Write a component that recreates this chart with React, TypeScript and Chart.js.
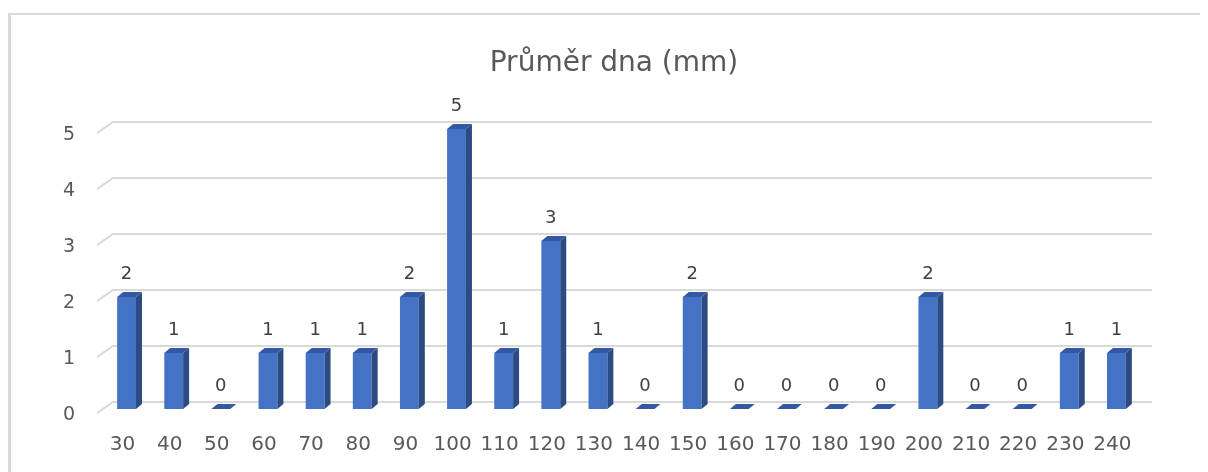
import { useEffect, useRef } from "react";
import { Chart, registerables } from "chart.js";

Chart.register(...registerables);

const categories = ["30", "40", "50", "60", "70", "80", "90", "100", "110", "120", "130", "140", "150", "160", "170", "180", "190", "200", "210", "220", "230", "240"];
const counts = [2, 1, 0, 1, 1, 1, 2, 5, 1, 3, 1, 0, 2, 0, 0, 0, 0, 2, 0, 0, 1, 1];
const yMin = 0;
const yMax = 5;
const yStep = 1;
const chartTitle = "Průměr dna (mm)";

const FONT = "'DejaVu Sans', 'Open Sans', sans-serif";
const FRONT = "#4472c4";
const SIDE = "#2b4b82";
const TOP = "#3459a0";
const GRID = "#d9d9d9";

const deco = {
  id: "deco3d",
  beforeDatasetsDraw(chart: any) {
    const ctx = chart.ctx;
    const { left, right } = chart.chartArea;
    const ys = chart.scales.y;
    ctx.save();
    // outer border
    ctx.fillStyle = GRID;
    ctx.fillRect(0, 5, chart.width, 2);
    ctx.fillRect(0, 5, 3, chart.height);
    // 3D gridlines
    ctx.strokeStyle = GRID;
    ctx.lineWidth = 2;
    for (let v = yMin; v <= yMax; v += yStep) {
      const y = ys.getPixelForValue(v);
      ctx.beginPath();
      ctx.moveTo(left - 6, y + 4);
      ctx.lineTo(left + 10, y - 7);
      ctx.lineTo(right + 12, y - 7);
      ctx.stroke();
    }
    ctx.restore();
  },
  afterDatasetsDraw(chart: any) {
    const ctx = chart.ctx;
    const meta = chart.getDatasetMeta(0);
    const dx = 6;
    const dy = 5;
    ctx.save();
    meta.data.forEach((bar: any, i: number) => {
      const { x, y, base, width } = bar.getProps(["x", "y", "base", "width"], true);
      const x1 = x - width / 2;
      const x2 = x + width / 2;
      if (base - y > 0.5) {
        ctx.fillStyle = SIDE;
        ctx.beginPath();
        ctx.moveTo(x2, y);
        ctx.lineTo(x2 + dx, y - dy);
        ctx.lineTo(x2 + dx, base - dy);
        ctx.lineTo(x2, base);
        ctx.closePath();
        ctx.fill();
      }
      ctx.fillStyle = TOP;
      ctx.beginPath();
      ctx.moveTo(x1, y);
      ctx.lineTo(x2, y);
      ctx.lineTo(x2 + dx, y - dy);
      ctx.lineTo(x1 + dx, y - dy);
      ctx.closePath();
      ctx.fill();
      ctx.fillStyle = "#404040";
      ctx.font = `18px ${FONT}`;
      ctx.textAlign = "center";
      ctx.textBaseline = "middle";
      ctx.fillText(String(counts[i]), x, y - 23);
    });
    ctx.fillStyle = "#595959";
    ctx.font = `28px ${FONT}`;
    ctx.textAlign = "center";
    ctx.textBaseline = "alphabetic";
    ctx.fillText(chartTitle, 606, 63);
    ctx.restore();
  },
};

export default function App() {
  const ref = useRef<HTMLCanvasElement>(null);
  useEffect(() => {
    if (!ref.current) return;
    const chart = new Chart(ref.current, {
      type: "bar",
      data: {
        labels: categories,
        datasets: [
          {
            data: counts,
            backgroundColor: FRONT,
            borderWidth: 0,
            categoryPercentage: 1,
            barPercentage: 0.4,
          },
        ],
      },
      options: {
        animation: false,
        responsive: false,
        devicePixelRatio: 1,
        layout: { padding: { left: 27, right: 68, top: 121, bottom: 0 } },
        plugins: {
          legend: { display: false },
          tooltip: { enabled: false },
          title: { display: false },
        },
        scales: {
          x: {
            grid: { display: false, drawTicks: false },
            border: { display: false },
            ticks: {
              color: "#595959",
              font: { size: 20, family: FONT },
              padding: 24,
              labelOffset: -4,
              maxRotation: 0,
              autoSkip: false,
            },
            afterFit: (s: any) => {
              s.height = 63;
            },
          },
          y: {
            min: yMin,
            max: yMax,
            grid: { display: false, drawTicks: false },
            border: { display: false },
            ticks: {
              stepSize: yStep,
              color: "#595959",
              font: { size: 19, family: FONT },
              padding: 28,
              labelOffset: 6,
            },
            afterFit: (s: any) => {
              s.width = 68;
            },
          },
        },
      },
      plugins: [deco],
    });
    return () => chart.destroy();
  }, []);
  return <canvas ref={ref} width={1200} height={464} style={{ display: "block" }} />;
}
